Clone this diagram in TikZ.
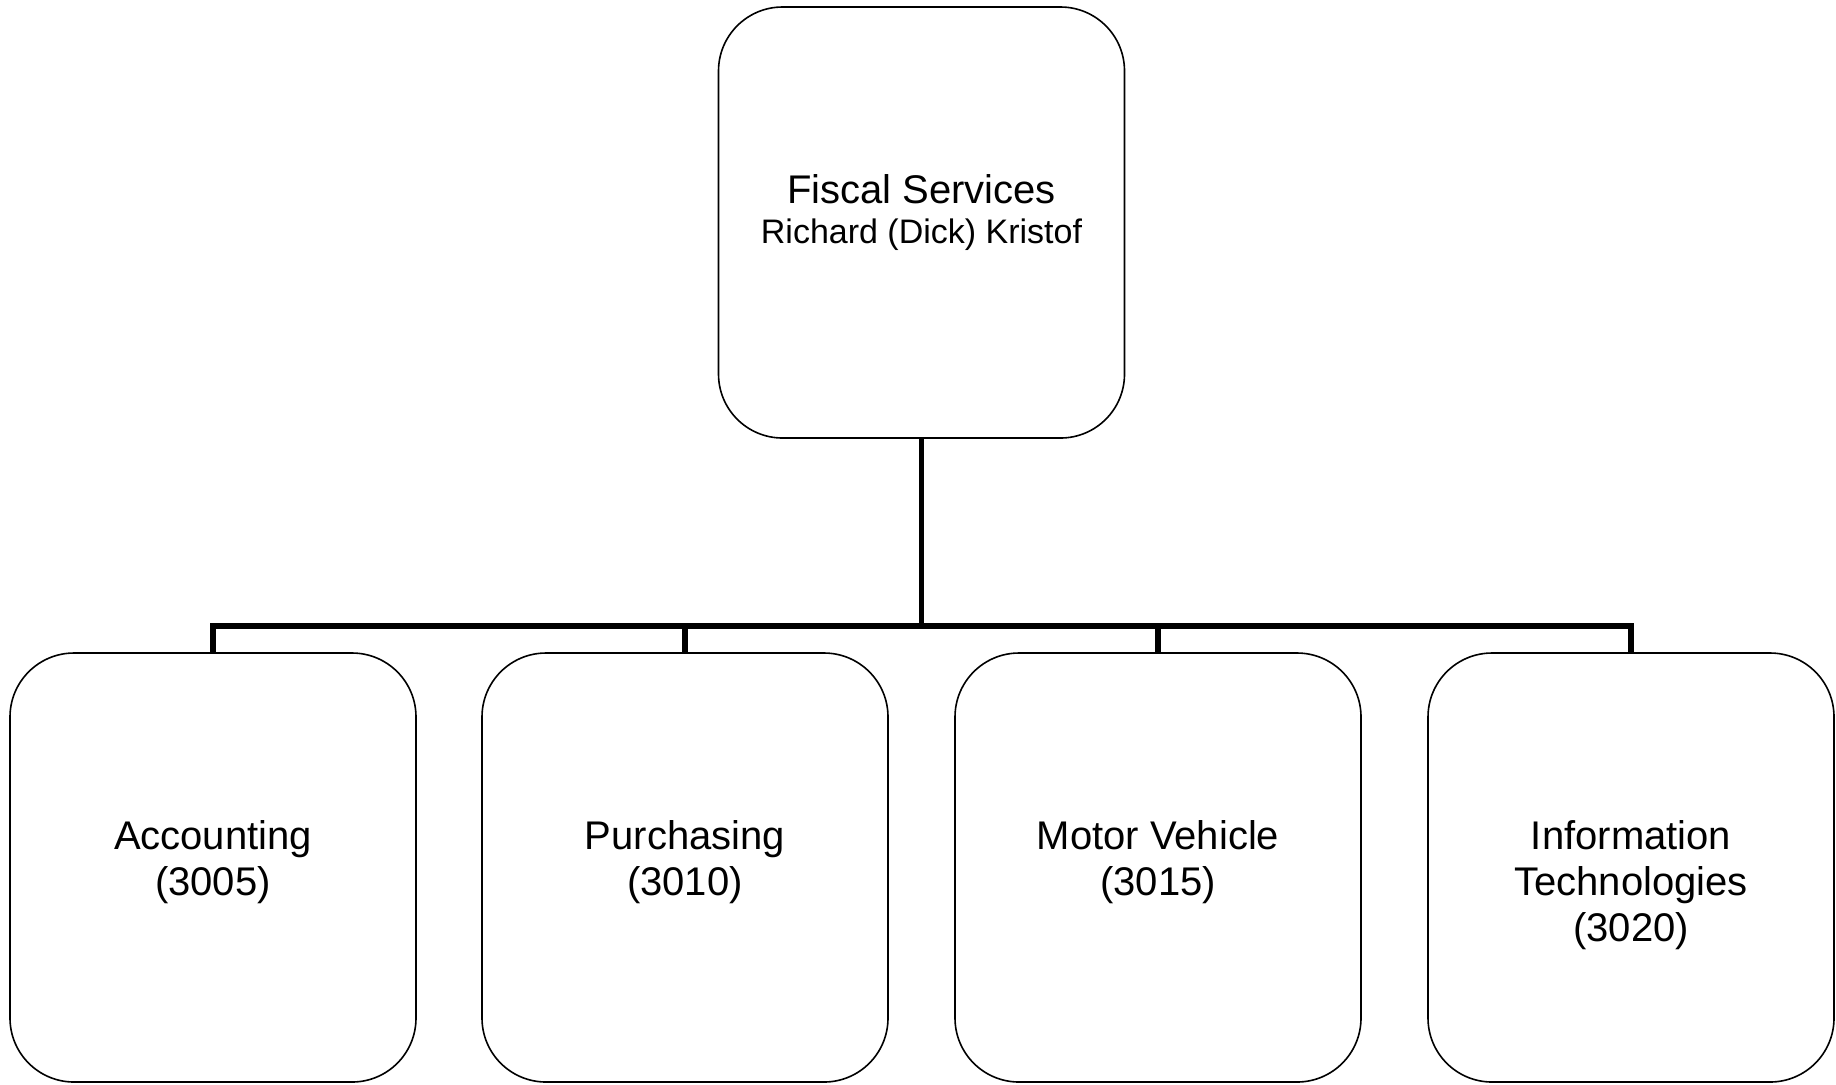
\documentclass[tikz,border=0pt]{standalone}
\usepackage{fontspec}
\setmainfont{Liberation Sans}
\usetikzlibrary{positioning}
\tikzset{
  % One unit of the organisation chart
  unit/.style={
    draw=black, line width=0.8pt, fill=white, rounded corners=32pt,
    inner sep=0pt, minimum width=203pt, minimum height=214.5pt},
  % Its name, hung from the top of the box
  unittext/.style={
    align=center, font=\fontsize{20}{23}\selectfont, inner sep=0pt},
  % Reporting lines
  reports/.style={draw=black, line width=2.6pt},
}
\newcommand{\orgunit}[3]{%
  \node[unit] (#2) at (#1) {};
  \node[unittext, below=84pt of #2.north] (#2-t) {#3};}

\begin{document}
\begin{tikzpicture}[x=0.5pt, y=-0.5pt]
  \useasboundingbox (0,0) rectangle (1836,1084);

  \node[unit, minimum height=215.5pt] (fiscal) at (921.5,222.5) {};
  \node[unittext, below=84pt of fiscal.north] (fiscal-t)
    {Fiscal Services\\[-3pt]{\fontsize{17}{20}\selectfont Richard (Dick) Kristof}};

  \orgunit{213,867.5}{acc}{Accounting\\(3005)}
  \orgunit{685,867.5}{pur}{Purchasing\\(3010)}
  \orgunit{1158,867.5}{mv}{Motor Vehicle\\(3015)}
  \orgunit{1631,867.5}{it}{Information\\Technologies\\(3020)}

  \coordinate (bus) at (921.5,626);
  \foreach \u in {acc,pur,mv,it}
    \draw[reports] (fiscal.south) -- (fiscal.south |- bus) -| (\u.north);

\end{tikzpicture}
\end{document}
